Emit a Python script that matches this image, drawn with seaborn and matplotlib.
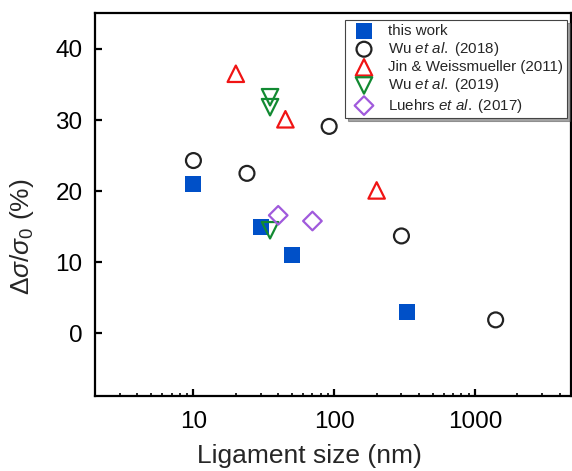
import matplotlib
matplotlib.use("Agg")
import matplotlib.pyplot as plt
import seaborn as sns
import pandas as pd

sns.set_style("white")
plt.rcParams['font.family'] = ['Liberation Sans', 'DejaVu Sans']
plt.rcParams['mathtext.fontset'] = 'custom'
plt.rcParams['mathtext.rm'] = 'Liberation Sans'
plt.rcParams['mathtext.it'] = 'Liberation Sans:italic'
plt.rcParams['mathtext.bf'] = 'Liberation Sans:bold'

# ---- data ----
this_work_x = [10, 30, 50, 330]
this_work_y = [21.0, 15.0, 11.0, 3.0]

wu2018_x = [10, 24, 92, 300, 1400]
wu2018_y = [24.3, 22.5, 29.1, 13.7, 1.9]

jin_x = [20, 45, 200]
jin_y = [36.5, 30.1, 20.1]

wu2019_x = [35, 35, 35]
wu2019_y = [33.2, 31.8, 14.5]

luehrs_x = [40, 70]
luehrs_y = [16.6, 15.8]

labels = ["this work",
          r"Wu $\mathit{et\ al.}$ (2018)",
          "Jin & Weissmueller (2011)",
          r"Wu $\mathit{et\ al.}$ (2019)",
          r"Luehrs $\mathit{et\ al.}$ (2017)"]

series = [
    (this_work_x, this_work_y, 's', '#0050C8', True, 125),
    (wu2018_x, wu2018_y, 'o', '#222222', False, 115),
    (jin_x, jin_y, '^', '#F01414', False, 140),
    (wu2019_x, wu2019_y, 'v', '#128a32', False, 140),
    (luehrs_x, luehrs_y, 'D', '#A05ADC', False, 90),
]

fig = plt.figure(figsize=(5.72, 4.71), dpi=100)
ax = fig.add_axes([95/572, 1-396/471, (571-95)/572, (396-13.3)/471])

for (xs, ys, m, c, filled, s), lab in zip(series, labels):
    df = pd.DataFrame({"x": xs, "y": ys})
    if filled:
        sns.scatterplot(data=df, x="x", y="y", marker=m, s=s, color=c,
                        edgecolor=c, linewidth=0, ax=ax, label=lab)
    else:
        sns.scatterplot(data=df, x="x", y="y", marker=m, s=s,
                        facecolor='none', edgecolor=c, linewidth=1.6,
                        ax=ax, label=lab)

ax.set_xscale('log')
ax.set_xlim(2, 4800)
ax.set_ylim(-8.8, 45)
ax.set_yticks([0, 10, 20, 30, 40])
ax.set_xticks([10, 100, 1000])
ax.set_xticklabels(["10", "100", "1000"])

for sp in ax.spines.values():
    sp.set_visible(True)
    sp.set_color('black')
    sp.set_linewidth(1.6)

ax.tick_params(axis='both', which='major', direction='in', length=5, width=1.6,
               labelsize=17.5, colors='black', bottom=True, left=True)
ax.tick_params(axis='x', which='major', pad=11)
ax.tick_params(axis='y', which='major', pad=9)
ax.tick_params(axis='x', which='minor', direction='in', length=2.5, width=1.4,
               bottom=True)
ax.tick_params(axis='y', which='minor', left=False)

ax.set_xlabel("Ligament size (nm)", fontsize=19)
ax.set_ylabel(r"$\Delta\sigma/\sigma_0$ (%)", fontsize=19)
ax.xaxis.set_label_coords((309-95)/476, -(444-396)/383)
ax.yaxis.set_label_coords((36-95)/476, (396-237)/383)

leg = ax.legend(loc='upper right', bbox_to_anchor=((567-95)/476, (396-20)/383),
                fontsize=10.9, frameon=True, shadow=True, fancybox=False,
                labelspacing=0.14, borderpad=0.25, handletextpad=0.6,
                borderaxespad=0, handlelength=2.0)
leg.get_frame().set_edgecolor('#444444')
leg.get_frame().set_linewidth(0.8)

fig.savefig("out.png", dpi=100)
